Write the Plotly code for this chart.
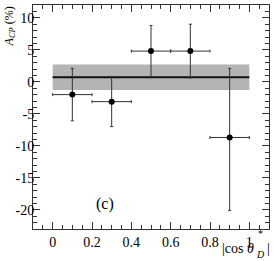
import plotly.graph_objects as go

# ---- data ----
x_centers = [0.1, 0.3, 0.5, 0.7, 0.9]
x_halfwidth = [0.1, 0.1, 0.1, 0.1, 0.1]
acp = [-2.0, -3.1, 4.8, 4.8, -8.7]
err_plus = [4.1, 3.9, 4.0, 4.2, 10.8]
err_minus = [4.1, 3.9, 4.0, 4.2, 11.4]

mean_x = [0.0, 1.0]
mean_acp = 0.7
mean_err = 2.0

x_tickvals = [0, 0.2, 0.4, 0.6, 0.8, 1.0]
x_ticktext = ["0", "0.2", "0.4", "0.6", "0.8", "1"]
y_tickvals = [-20, -15, -10, -5, 0, 5, 10]
y_ticktext = ["-20", "-15", "-10", "-5", "0", "5", "10"]

FONT = "Times New Roman, Liberation Serif, serif"
AX = "#333333"

fig = go.Figure()

bx = [mean_x[0], mean_x[1], mean_x[1], mean_x[0], mean_x[0]]
by = [mean_acp - mean_err, mean_acp - mean_err, mean_acp + mean_err,
      mean_acp + mean_err, mean_acp - mean_err]
fig.add_trace(go.Scatter(x=bx, y=by, fill="toself", fillcolor="#b4b4b4",
                         line=dict(width=0), mode="lines", hoverinfo="skip",
                         showlegend=False))
fig.add_trace(go.Scatter(x=mean_x, y=[mean_acp, mean_acp], mode="lines",
                         line=dict(color="#111111", width=2), showlegend=False))
fig.add_trace(go.Scatter(
    x=x_centers, y=acp, mode="markers",
    marker=dict(color="black", size=6),
    error_x=dict(type="data", array=x_halfwidth, color="#333333",
                 thickness=1, width=1.5),
    error_y=dict(type="data", symmetric=False, array=err_plus,
                 arrayminus=err_minus, color="#333333", thickness=1, width=1.5),
    showlegend=False))

fig.update_layout(
    width=274, height=261,
    margin=dict(l=33, r=5, t=5, b=32),
    paper_bgcolor="white", plot_bgcolor="white",
    font=dict(family=FONT, size=14, color="black"),
    xaxis=dict(range=[-0.1, 1.1], tickvals=x_tickvals, ticktext=x_ticktext,
               ticks="inside", ticklen=7, tickcolor=AX, showgrid=False,
               zeroline=False, showline=True, linecolor=AX, linewidth=1,
               mirror="ticks",
               minor=dict(dtick=0.05, tick0=0, ticks="inside", ticklen=4,
                          tickcolor=AX, showgrid=False),
               tickfont=dict(family=FONT, size=14)),
    yaxis=dict(range=[-23, 12], tickvals=y_tickvals, ticktext=y_ticktext,
               ticks="inside", ticklen=7, tickcolor=AX, showgrid=False,
               zeroline=False, showline=True, linecolor=AX, linewidth=1,
               mirror="ticks",
               minor=dict(dtick=1, tick0=0, ticks="inside", ticklen=4,
                          tickcolor=AX, showgrid=False),
               tickfont=dict(family=FONT, size=14)),
)

try:
    fig.update_yaxes(ticklabelstandoff=-5)
except Exception:
    pass

fig.add_annotation(xref="paper", yref="paper", x=-0.097, y=0.905,
                   text="<i>A</i><sub><i>CP</i></sub> (%)", textangle=-90,
                   showarrow=False, xanchor="center", yanchor="middle",
                   font=dict(family=FONT, size=12))
# x-axis title pieces
fig.add_annotation(xref="paper", yref="paper", x=0.945, y=-0.085,
                   text="|cos <i>θ</i>", showarrow=False,
                   xanchor="right", yanchor="middle",
                   font=dict(family=FONT, size=14))
fig.add_annotation(xref="paper", yref="paper", x=0.966, y=-0.02,
                   text="*", showarrow=False,
                   xanchor="center", yanchor="middle",
                   font=dict(family=FONT, size=10))
fig.add_annotation(xref="paper", yref="paper", x=0.964, y=-0.115,
                   text="<i>D</i>", showarrow=False,
                   xanchor="center", yanchor="middle",
                   font=dict(family=FONT, size=10))
fig.add_annotation(xref="paper", yref="paper", x=0.998, y=-0.085,
                   text="|", showarrow=False,
                   xanchor="center", yanchor="middle",
                   font=dict(family=FONT, size=14))
fig.add_annotation(xref="paper", yref="paper", x=0.305, y=0.11,
                   text="(c)", showarrow=False, xanchor="center",
                   yanchor="middle", font=dict(family=FONT, size=16))

fig.write_html(
    "out.html",
    config={"displayModeBar": False},
    post_script="document.body.style.margin='0';document.body.style.padding='0';document.body.style.overflow='hidden';",
)
